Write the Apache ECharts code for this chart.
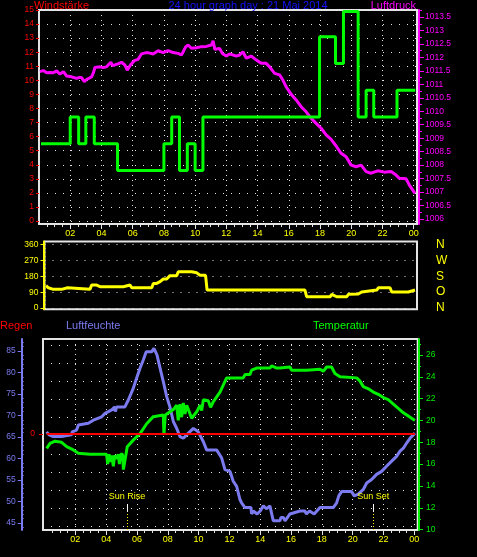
<!DOCTYPE html>
<html><head><meta charset="utf-8">
<script src="https://cdn.jsdelivr.net/npm/echarts@6/dist/echarts.min.js"></script>
<style>html,body{margin:0;padding:0;background:#000;}#c{width:477px;height:557px;}</style>
</head><body><div id="c"></div>
<script>
// ---------------- data ----------------
const titleText = '24 hour graph day : 21 Mai 2014';
const hourTickValues = [2,4,6,8,10,12,14,16,18,20,22,24];
const windTicks = [0,1,2,3,4,5,6,7,8,9,10,11,12,13,14,15];
const pressureTicks = [1006,1006.5,1007,1007.5,1008,1008.5,1009,1009.5,1010,1010.5,1011,1011.5,1012,1012.5,1013,1013.5];
const dirTicks = [0,90,180,270,360];
const compassLabels = ['N','O','S','W','N'];
const humidityTicks = [45,50,55,60,65,70,75,80,85];
const tempTicks = [10,12,14,16,18,20,22,24,26];
const rainTicks = [0];

const windTimes = [0.13,2.0,2.54,3.0,3.54,5.03,8.0,8.5,9.0,9.5,10.0,10.5,17.97,18.99,19.5,20.44,20.95,21.44,22.93,24.1];
const windSpeed = [5.5,7.4,5.5,7.4,5.5,3.6,5.5,7.4,3.6,5.5,3.6,7.4,13.1,11.2,14.9,7.4,9.3,7.4,9.3,9.3];

const pressureTimes = [0.06,0.28,0.49,0.7,0.92,1.13,1.34,1.56,1.77,2.09,2.41,2.6,2.73,2.9,3.05,3.15,3.37,3.5,3.58,3.9,4.1,4.33,4.6,4.7,4.86,5.05,5.28,5.5,5.65,5.75,5.86,6.1,6.35,6.56,6.88,7.1,7.31,7.63,7.95,8.27,8.59,8.91,9.12,9.23,9.4,9.55,9.76,10.08,10.4,10.72,11.04,11.15,11.26,11.57,11.74,12.0,12.21,12.64,12.85,13.06,13.28,13.6,13.92,14.23,14.55,14.77,15.09,15.41,15.62,15.83,16.15,16.47,16.79,17.11,17.43,17.75,18.07,18.39,18.71,19.03,19.35,19.67,19.99,20.31,20.63,20.95,21.27,21.69,22.12,22.55,22.87,23.08,23.51,23.72,23.93,24.08];
const pressureValues = [1011.47,1011.51,1011.43,1011.44,1011.43,1011.50,1011.38,1011.47,1011.31,1011.28,1011.22,1011.26,1011.25,1011.10,1011.18,1011.22,1011.28,1011.45,1011.63,1011.65,1011.62,1011.65,1011.82,1011.70,1011.72,1011.76,1011.82,1011.72,1011.53,1011.62,1011.72,1011.88,1011.93,1012.13,1012.18,1012.16,1012.13,1012.25,1012.18,1012.25,1012.18,1012.15,1012.09,1012.20,1012.40,1012.46,1012.34,1012.36,1012.40,1012.41,1012.46,1012.62,1012.30,1012.33,1012.15,1012.05,1012.13,1012.05,1012.09,1012.21,1011.97,1012.05,1011.90,1011.78,1011.78,1011.65,1011.41,1011.35,1011.16,1010.91,1010.63,1010.42,1010.17,1009.98,1009.74,1009.55,1009.37,1009.12,1008.96,1008.71,1008.44,1008.31,1008.00,1007.94,1008.00,1007.76,1007.70,1007.79,1007.74,1007.76,1007.63,1007.51,1007.49,1007.26,1007.08,1006.95];

const dirTimes = [0.1,0.25,0.57,1.11,1.22,1.5,1.61,2.95,3.06,3.35,3.6,5.12,5.22,5.55,5.66,6.96,7.06,7.28,7.5,7.71,7.93,8.14,8.58,8.68,9.55,9.66,9.88,10.09,10.45,10.55,16.9,17.01,18.53,18.64,18.96,19.61,19.72,20.36,20.58,20.69,21.56,21.66,22.42,22.53,23.61,23.72,24.04];
const dirValues = [127,115,106,106,115,115,106,106,131,131,121,121,131,131,115,115,140,140,150,165,165,184,184,206,206,200,200,186,186,102,102,64,64,77,64,64,78,80,91,102,102,115,115,91,91,102,102];

const humTimes = [0.14,0.3,0.57,1.1,1.12,1.75,1.8,2.08,2.2,2.84,3.17,3.71,3.93,4.36,4.57,4.6,4.68,5.22,5.44,5.76,5.98,6.2,6.41,6.6,6.95,7.1,7.17,7.3,7.5,7.71,7.93,8.14,8.36,8.58,8.79,9.01,9.34,9.66,9.98,10.31,10.52,11.17,11.5,11.71,12.04,12.25,12.47,12.69,12.79,13.01,13.4,13.44,13.55,13.66,13.8,14.0,14.2,14.4,14.63,14.7,14.85,15.28,15.35,15.5,15.61,15.93,16.58,16.9,17.0,17.2,17.5,17.88,18.74,18.96,19.1,19.28,19.93,20.1,20.36,20.69,20.91,21.23,21.55,21.88,22.2,22.53,22.85,23.07,23.29,23.5,23.72,24.04];
const humValues = [66.2,65.5,65.1,65.1,65.5,65.5,66.2,66.6,67.8,68.2,68.9,69.7,70.5,71.3,72.0,70.9,72.0,72.0,73.6,76.3,78.7,81.0,82.9,84.8,84.8,85.6,85.6,84.1,81.0,77.9,74.4,72.0,68.6,67.0,65.1,64.7,65.9,67.0,66.2,63.9,62.0,62.0,60.1,57.4,57.0,54.7,53.5,50.4,49.7,48.6,48.6,47.1,47.8,47.8,47.1,47.8,49.0,48.3,49.0,47.8,45.5,45.5,46.3,46.3,45.5,47.1,47.8,47.8,47.1,47.8,47.1,48.6,48.6,49.7,51.3,52.3,52.3,51.3,51.7,52.8,54.3,55.1,56.3,57.0,58.2,59.4,60.5,61.7,62.4,63.6,64.7,65.9];

const tempTimes = [0.14,0.36,0.68,1.11,1.44,1.87,2.2,2.95,4.03,4.1,4.19,4.3,4.36,4.47,4.55,4.68,4.79,4.86,4.94,5.07,5.12,5.22,5.29,5.37,5.76,6.2,6.63,7.06,7.71,7.75,7.84,8.36,8.58,8.68,8.79,8.9,9.01,9.12,9.23,9.55,9.88,10.1,10.2,10.31,10.63,10.78,10.95,11.39,11.82,12.9,13.01,13.33,13.44,13.77,14.63,14.74,14.85,15.07,15.28,15.39,15.93,16.04,17.01,17.12,17.88,18.09,18.31,18.63,18.85,19.18,20.26,20.48,20.69,21.02,21.34,21.66,21.99,22.31,22.64,22.96,23.29,23.61,24.04];
const tempValues = [17.45,17.9,18.1,18.0,17.6,17.3,17.0,16.9,16.9,16.0,16.9,16.2,16.8,15.8,16.8,16.5,16.9,16.0,16.9,16.9,15.5,15.5,16.9,17.6,18.2,18.8,19.7,20.35,20.5,18.7,20.5,21.0,21.4,20.0,21.5,20.3,21.6,20.6,21.4,20.2,20.8,21.4,20.9,21.9,21.8,21.2,21.7,22.6,23.9,23.9,24.2,24.2,24.6,24.8,24.8,25.0,25.1,24.8,24.8,24.9,24.9,24.6,24.6,24.7,24.7,24.5,24.9,24.9,24.3,24.0,23.9,23.6,23.1,22.9,22.6,22.4,22.1,21.9,21.5,21.1,20.7,20.4,20.0];

const rainTimes = [0.14, 24.04];
const rainValues = [0, 0];

const sunHours = [5.35, 21.34];
const sunLabels = ['Sun Rise', 'Sun Set'];

// ---------------- helpers ----------------
function zip(a, b) { return a.map((v, i) => [v, b[i]]); }
function steps(a, b, s) { const r = []; for (let v = a; v <= b + 1e-9; v += s) r.push(+v.toFixed(4)); return r; }
function pad(v) { const h = Math.round(v) % 24; return (h < 10 ? '0' : '') + h; }

const FONT = 'Liberation Sans';
const FRAME = '#e4e4e4';
const DOT = '#e4e4e4';
const RED = '#ff0000', MAG = '#ff00ff', YEL = '#ffff00', GRN = '#00ff00', HUM = '#7b7bef', TMP = '#00ee00';
const lab = (c, extra) => Object.assign({ color: c, fontFamily: FONT, fontSize: 8.5 }, extra || {});
const off = { show: false };
const lineOff = { show: false, onZero: false };
const line = (c, w) => ({ show: true, onZero: false, lineStyle: { color: c, width: w } });

const halfHours = steps(0.5, 24, 0.5);
const twoHours = steps(2, 24, 2);

const xMainTop = { type: 'value', gridIndex: 0, min: 0, max: 24.21, position: 'bottom',
  axisLine: lineOff, splitLine: off,
  axisTick: { show: true, customValues: halfHours, length: 3, lineStyle: { color: FRAME } },
  axisLabel: lab(YEL, { customValues: hourTickValues, formatter: pad, margin: 5, fontSize: 9 }) };
const xDecoTop = { type: 'value', gridIndex: 0, min: 0, max: 24.21, position: 'bottom',
  axisLine: lineOff, axisLabel: off,
  axisTick: { show: true, customValues: twoHours, length: 5, lineStyle: { color: FRAME } },
  splitLine: { show: true, lineStyle: { color: DOT, type: [1, 4], width: 1 } } };
const xMid = { type: 'value', gridIndex: 1, min: 0, max: 24.17, axisLine: lineOff, axisTick: off, axisLabel: off, splitLine: off };
const xMainBot = { type: 'value', gridIndex: 2, min: -0.097, max: 24.22, position: 'bottom',
  axisLine: lineOff, splitLine: off,
  axisTick: { show: true, customValues: halfHours, length: 3, lineStyle: { color: FRAME } },
  axisLabel: lab(YEL, { customValues: hourTickValues, formatter: pad, margin: 5, fontSize: 9 }) };
const xDecoBot = { type: 'value', gridIndex: 2, min: -0.097, max: 24.22, position: 'bottom',
  axisLine: lineOff, axisLabel: off,
  axisTick: { show: true, customValues: twoHours, length: 5, lineStyle: { color: FRAME } },
  splitLine: { show: true, lineStyle: { color: DOT, type: [1, 4], width: 1 } } };

const gridLineVals = steps(0.18, 10.18, 1);

const yAxes = [
  // 0 wind (top left)
  { type: 'value', gridIndex: 0, min: -0.21, max: 15, position: 'left', axisLine: lineOff,
    axisTick: { show: true, customValues: windTicks, length: 3, lineStyle: { color: RED } },
    axisLabel: lab(RED, { customValues: windTicks, margin: 5 }),
    splitLine: { show: true, lineStyle: { color: DOT, type: [1, 7], width: 1 } } },
  // 1 pressure (top right)
  { type: 'value', gridIndex: 0, min: 1005.814, max: 1013.761, position: 'right', offset: 2,
    axisLine: line(MAG, 2),
    axisTick: { show: true, customValues: pressureTicks, length: 5, lineStyle: { color: MAG } },
    axisLabel: lab(MAG, { customValues: pressureTicks, formatter: v => String(+(+v).toFixed(1)), margin: 6 }),
    splitLine: off },
  // 2 pressure minor ticks
  { type: 'value', gridIndex: 0, min: 1005.814, max: 1013.761, position: 'right', offset: 2,
    axisLine: lineOff, axisLabel: off, splitLine: off,
    axisTick: { show: true, customValues: pressureTicks.map(v => v + 0.25), length: 3, lineStyle: { color: MAG } } },
  // 3 wind direction (mid left)
  { type: 'value', gridIndex: 1, min: -7.4, max: 377.6, position: 'left', offset: 1,
    axisLine: line(YEL, 2),
    axisTick: { show: true, customValues: dirTicks, length: 3, lineStyle: { color: YEL } },
    axisLabel: lab(YEL, { customValues: dirTicks, margin: 5 }),
    splitLine: { show: true, lineStyle: { color: DOT, type: [1, 7], width: 1 } } },
  // 4 dir minor ticks
  { type: 'value', gridIndex: 1, min: -7.4, max: 377.6, position: 'left', offset: 1,
    axisLine: lineOff, axisLabel: off, splitLine: off,
    axisTick: { show: true, inside: true, customValues: steps(22.5, 337.5, 22.5), length: 2, lineStyle: { color: YEL } } },
  // 5 compass letters (mid right)
  { type: 'value', gridIndex: 1, min: -7.4, max: 377.6, position: 'right', offset: 0,
    axisLine: lineOff, axisTick: off, splitLine: off,
    axisLabel: lab(YEL, { customValues: dirTicks, fontSize: 12, margin: 19,
      formatter: v => compassLabels[dirTicks.indexOf(Math.round(v))] || '' }) },
  // 6 humidity (bottom far left)
  { type: 'value', gridIndex: 2, min: 43.37, max: 87.79, position: 'left', offset: 21.3,
    axisLine: line(HUM, 2),
    axisTick: { show: true, customValues: humidityTicks, length: 4, lineStyle: { color: HUM } },
    axisLabel: lab(HUM, { customValues: humidityTicks, margin: 6 }),
    splitLine: off },
  // 7 humidity minor ticks
  { type: 'value', gridIndex: 2, min: 43.37, max: 87.79, position: 'left', offset: 21.3,
    axisLine: lineOff, axisLabel: off, splitLine: off,
    axisTick: { show: true, inside: true, customValues: steps(44, 87, 1).filter(v => v % 5 !== 0), length: 2, lineStyle: { color: HUM } } },
  // 8 rain (bottom left)
  { type: 'value', gridIndex: 2, min: -96, max: 95, position: 'left', offset: 0,
    axisLine: lineOff, splitLine: off,
    axisTick: { show: true, customValues: rainTicks, length: 4, lineStyle: { color: RED } },
    axisLabel: lab(RED, { customValues: rainTicks, margin: 8 }) },
  // 9 temperature (bottom right)
  { type: 'value', gridIndex: 2, min: 9.97, max: 27.46, position: 'right', offset: 1.3,
    axisLine: line(TMP, 2),
    axisTick: { show: true, customValues: tempTicks, length: 4, lineStyle: { color: TMP } },
    axisLabel: lab(TMP, { customValues: tempTicks, margin: 7 }),
    splitLine: off },
  // 10 temperature minor ticks
  { type: 'value', gridIndex: 2, min: 9.97, max: 27.46, position: 'right', offset: 1.3,
    axisLine: lineOff, axisLabel: off, splitLine: off,
    axisTick: { show: true, customValues: steps(11, 27, 2), length: 2, lineStyle: { color: TMP } } },
  // 11 bottom panel dotted grid
  { type: 'value', gridIndex: 2, min: 0, max: 10.51, position: 'left', offset: 0,
    axisLine: lineOff, axisLabel: off,
    axisTick: { show: true, customValues: gridLineVals, length: 0, lineStyle: { color: 'rgba(0,0,0,0)' } },
    splitLine: { show: true, lineStyle: { color: DOT, type: [1, 7], width: 1 } } }
];

const lineBase = { type: 'line', showSymbol: false, symbol: 'none', animation: false };
const sunMarks = [];
sunHours.forEach((h, i) => {
  sunMarks.push([{ coord: [h, 43.37], lineStyle: { color: YEL, type: [1, 2], width: 1 } }, { coord: [h, 47.56] }]);
  sunMarks.push([{ coord: [h, 47.56], lineStyle: { color: '#ffffff', type: 'solid', width: 1 } },
                 { coord: [h, 49.42], label: { show: true, position: 'end', formatter: sunLabels[i], color: YEL, fontFamily: FONT, fontSize: 9, distance: 3 } }]);
});

const option = {
  backgroundColor: '#000',
  animation: false,
  grid: [
    { left: 39, top: 10, width: 378, height: 214, show: true, borderColor: FRAME, borderWidth: 2, backgroundColor: 'transparent', containLabel: false },
    { left: 44.5, top: 241.6, width: 372.5, height: 67.7, show: true, borderColor: FRAME, borderWidth: 2, backgroundColor: 'transparent', containLabel: false },
    { left: 43, top: 339, width: 374.7, height: 191, show: true, borderColor: FRAME, borderWidth: 2, backgroundColor: 'transparent', containLabel: false }
  ],
  xAxis: [xMainTop, xDecoTop, xMid, xMainBot, xDecoBot],
  yAxis: yAxes,
  graphic: [
    { type: 'text', left: 34, top: 0, style: { text: 'Windstärke', fill: RED, fontFamily: FONT, fontSize: 11 } },
    { type: 'text', x: 248, y: 0, style: { text: titleText, fill: '#1414ff', fontFamily: FONT, fontSize: 11, textAlign: 'center' } },
    { type: 'text', right: 61, top: 0, style: { text: 'Luftdruck', fill: MAG, fontFamily: FONT, fontSize: 11 } },
    { type: 'text', left: 0, top: 320, style: { text: 'Regen', fill: RED, fontFamily: FONT, fontSize: 11 } },
    { type: 'text', left: 66, top: 320, style: { text: 'Luftfeuchte', fill: HUM, fontFamily: FONT, fontSize: 11 } },
    { type: 'text', left: 313, top: 320, style: { text: 'Temperatur', fill: GRN, fontFamily: FONT, fontSize: 11 } }
  ],
  series: [
    Object.assign({}, lineBase, { name: 'Luftdruck', xAxisIndex: 0, yAxisIndex: 1, data: zip(pressureTimes, pressureValues),
      lineStyle: { color: MAG, width: 3 }, z: 3 }),
    Object.assign({}, lineBase, { name: 'Windstärke', xAxisIndex: 0, yAxisIndex: 0, step: 'end', data: zip(windTimes, windSpeed),
      lineStyle: { color: GRN, width: 3 }, z: 4 }),
    Object.assign({}, lineBase, { name: 'Windrichtung', xAxisIndex: 2, yAxisIndex: 3, data: zip(dirTimes, dirValues),
      lineStyle: { color: YEL, width: 3 }, z: 3 }),
    Object.assign({}, lineBase, { name: 'Luftfeuchte', xAxisIndex: 3, yAxisIndex: 6, data: zip(humTimes, humValues),
      lineStyle: { color: HUM, width: 3 }, z: 3,
      markLine: { silent: true, symbol: ['none', 'none'], animation: false, label: { show: false }, data: sunMarks } }),
    Object.assign({}, lineBase, { name: 'Temperatur', xAxisIndex: 3, yAxisIndex: 9, data: zip(tempTimes, tempValues),
      lineStyle: { color: TMP, width: 3 }, z: 4 }),
    Object.assign({}, lineBase, { name: 'Regen', xAxisIndex: 3, yAxisIndex: 8, data: zip(rainTimes, rainValues),
      lineStyle: { color: RED, width: 2 }, z: 5 })
  ]
};

const chart = echarts.init(document.getElementById('c'), null, { renderer: 'canvas', width: 477, height: 557 });
chart.setOption(option);
</script>
</body></html>
